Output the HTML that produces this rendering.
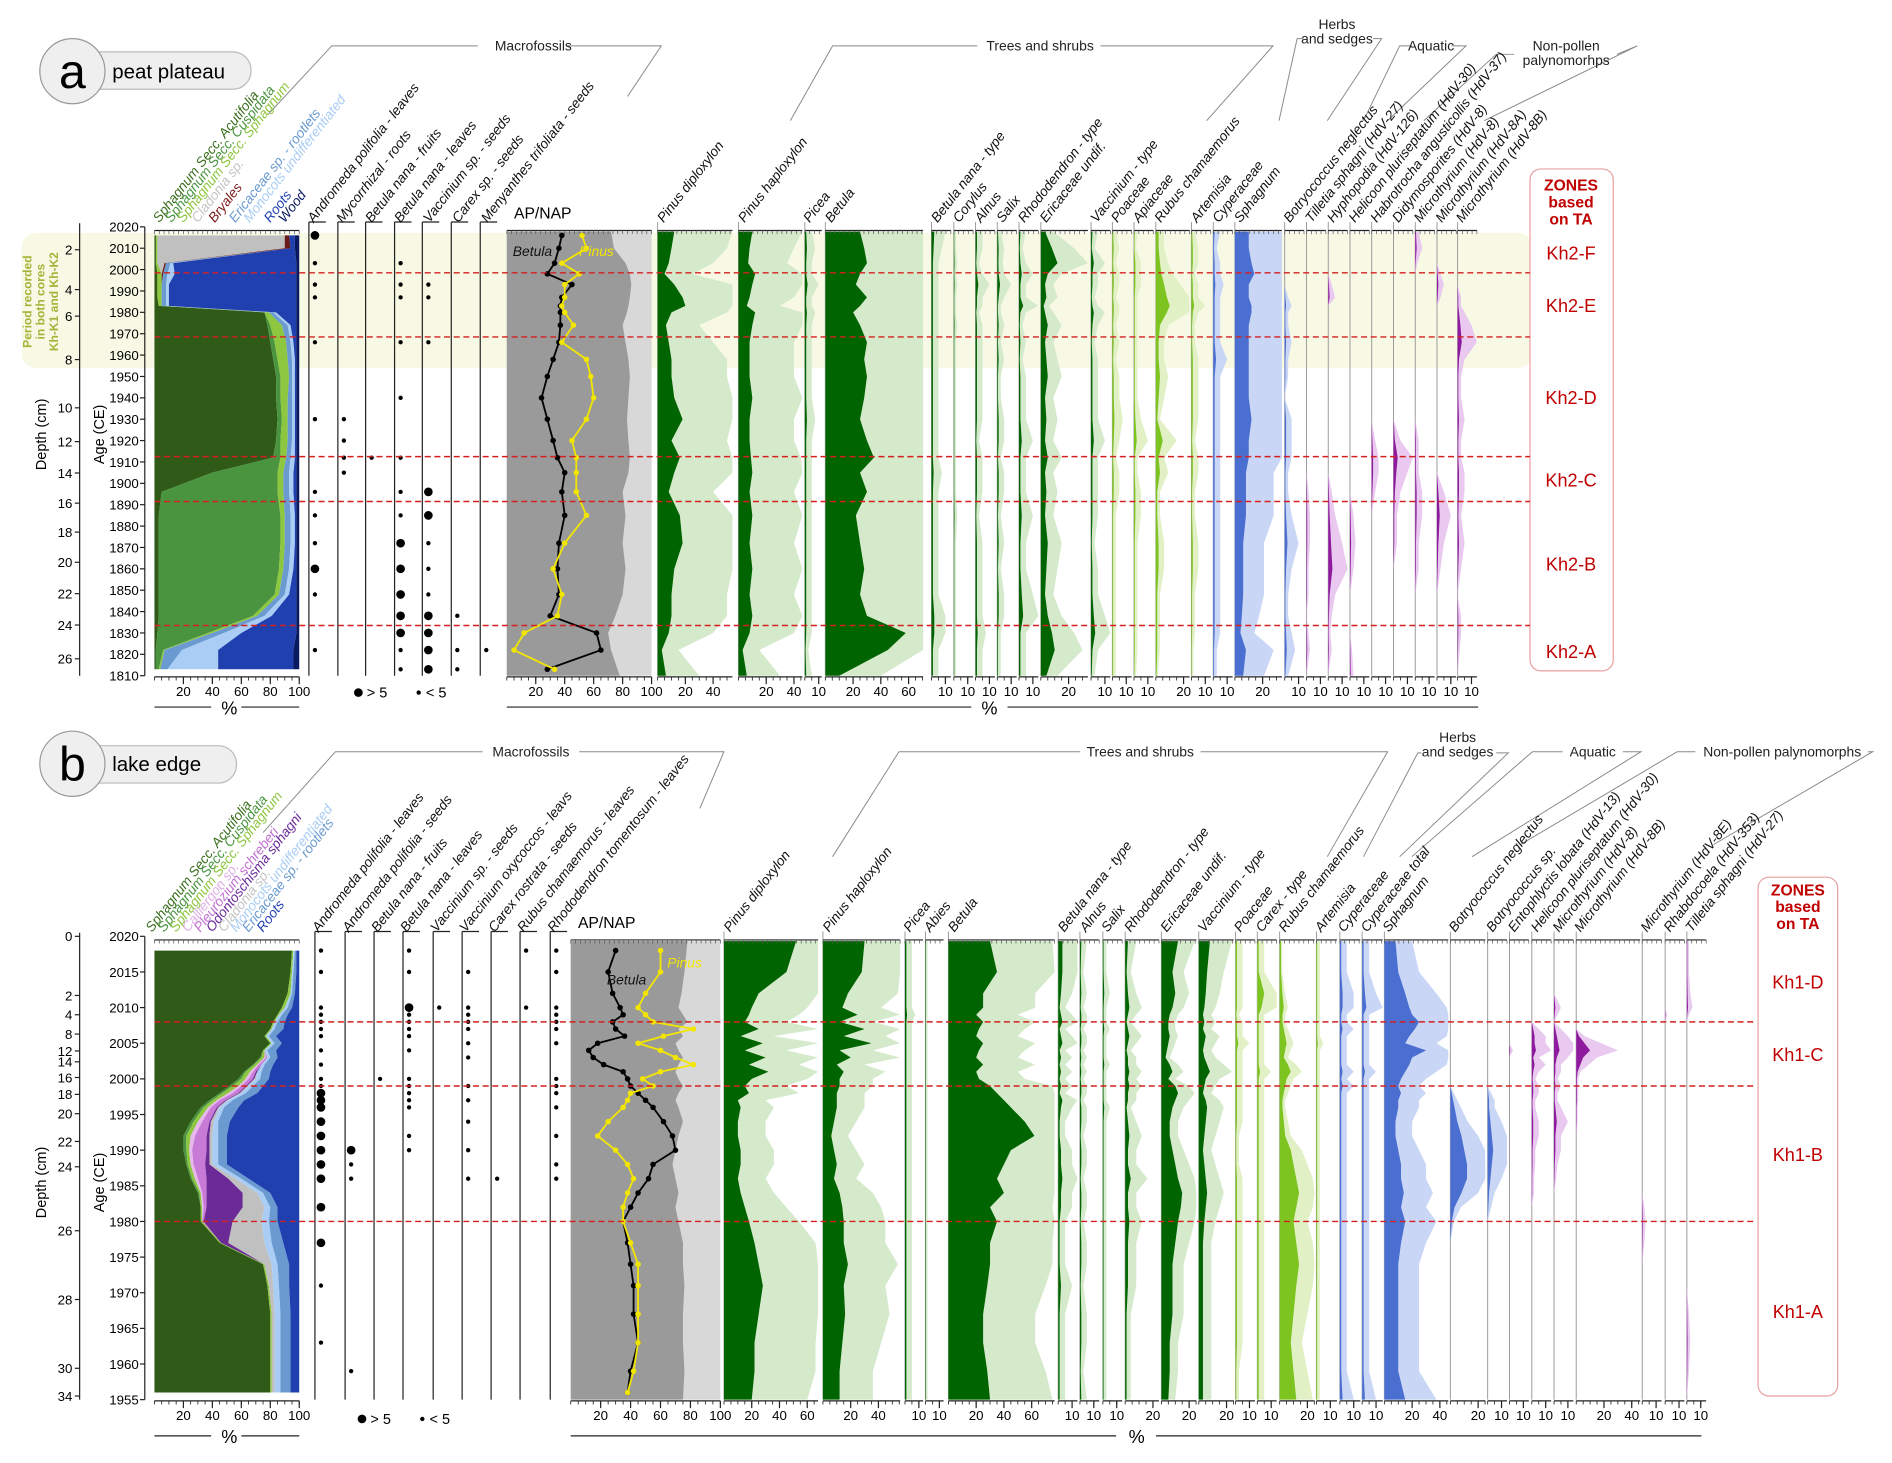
<!DOCTYPE html>
<html><head><meta charset="utf-8"><style>
html,body{margin:0;padding:0;background:#fff}
svg{display:block;font-family:"Liberation Sans",sans-serif}
</style></head><body>
<svg id="fig" width="1892" height="1463" viewBox="0 0 1568 1212.5" preserveAspectRatio="none" xmlns="http://www.w3.org/2000/svg">
<rect x="18" y="193" width="1252" height="112" rx="12" fill="#f8f9e4"/>
<text transform="translate(36,250) rotate(-90)" text-anchor="middle" font-size="10" font-weight="bold" fill="#a4b43a"><tspan x="0" dy="-10">Period recorded</tspan><tspan x="0" dy="11">in both cores</tspan><tspan x="0" dy="11">Kh-K1 and Kh-K2</tspan></text>
<g>
<rect x="62" y="43" width="146" height="31" rx="15" fill="#efefef" stroke="#bbb"/>
<circle cx="60" cy="59" r="27" fill="#efefef" stroke="#999"/>
<text x="60" y="73" text-anchor="middle" font-size="40">a</text>
<text x="93" y="65" font-size="17">peat plateau</text></g>
<g>
<rect x="62" y="618" width="134" height="31" rx="15" fill="#efefef" stroke="#bbb"/>
<circle cx="60" cy="633" r="27" fill="#efefef" stroke="#999"/>
<text x="60" y="647" text-anchor="middle" font-size="40">b</text>
<text x="93" y="639" font-size="17">lake edge</text></g>
<g fill="none" stroke="#888" stroke-width="0.8">
<polyline points="222,95 275,38 396,38"/><polyline points="470,38 548,38 520,80"/>
<polyline points="655,100 690,38 810,38"/><polyline points="912,38 1055,38 1000,100"/>
<polyline points="1060,100 1075,32 1080,32"/><polyline points="1138,32 1145,32 1100,100"/>
<polyline points="1130,100 1160,38 1170,38"/><polyline points="1203,38 1215,38 1150,100"/>
<polyline points="1180,100 1240,45 1255,45"/><polyline points="1340,45 1357,38 1230,100"/>
<polyline points="218,690 278,623 400,623"/><polyline points="480,623 600,623 580,670"/>
<polyline points="690,710 745,623 895,623"/><polyline points="995,623 1150,623 1100,710"/>
<polyline points="1130,710 1175,624 1178,624"/><polyline points="1240,624 1250,624 1160,710"/>
<polyline points="1170,710 1270,623 1295,623"/><polyline points="1345,623 1360,623 1220,710"/>
<polyline points="1260,700 1390,623 1405,623"/><polyline points="1548,623 1552,623 1420,700"/>
</g>
<g font-size="11.5" fill="#222">
<text x="442" y="42" text-anchor="middle">Macrofossils</text>
<text x="862" y="42" text-anchor="middle">Trees and shrubs</text>
<text x="1108" y="24" text-anchor="middle">Herbs</text><text x="1108" y="36" text-anchor="middle">and sedges</text>
<text x="1186" y="42" text-anchor="middle">Aquatic</text>
<text x="1298" y="42" text-anchor="middle">Non-pollen</text><text x="1298" y="54" text-anchor="middle">palynomorhps</text>
<text x="440" y="627" text-anchor="middle">Macrofossils</text>
<text x="945" y="627" text-anchor="middle">Trees and shrubs</text>
<text x="1208" y="615" text-anchor="middle">Herbs</text><text x="1208" y="627" text-anchor="middle">and sedges</text>
<text x="1320" y="627" text-anchor="middle">Aquatic</text>
<text x="1477" y="627" text-anchor="middle">Non-pollen palynomorphs</text>
</g>
<rect x="1268" y="140" width="69" height="416" rx="9" fill="#fff" stroke="#e8a0a0"/>
<text x="1302" y="158" text-anchor="middle" font-size="13" font-weight="bold" fill="#c00000"><tspan x="1302">ZONES</tspan><tspan x="1302" dy="14">based</tspan><tspan x="1302" dy="14">on TA</tspan></text>
<rect x="1457" y="727" width="66" height="430" rx="9" fill="#fff" stroke="#e8a0a0"/>
<text x="1490" y="742" text-anchor="middle" font-size="13" font-weight="bold" fill="#c00000"><tspan x="1490">ZONES</tspan><tspan x="1490" dy="14">based</tspan><tspan x="1490" dy="14">on TA</tspan></text>
<g id="plot"></g>
</svg>
<script>
const aAges=[2016,2010,2003,1998,1993,1987,1983,1980,1974,1966,1958,1950,1940,1930,1920,1912,1905,1896,1885,1872,1860,1848,1838,1830,1822,1813];
const aAcu=[1,1,1,2,2,2,3,76,78,80,82,84,84,85,84,82,40,5,3,3,3,3,3,2,1,1];
const aCus=[0,0,0,0,0,0,0,0,2,3,3,3,3,3,3,5,45,80,84,84,83,80,65,35,5,2];
const aSph=[1,1,1,3,3,3,2,3,8,8,7,6,5,4,5,4,4,4,3,3,3,3,3,3,1,1];
const aCla=[88,88,5,0,0,0,0,0,0,0,0,0,0,0,0,0,0,0,0,0,0,0,0,0,0,0];
const aBry=[3,4,1,1,0,0,0,0,0,0,0,0,0,0,0,0,0,0,0,0,0,0,0,0,0,0];
const aEri=[0,0,3,3,3,3,3,3,4,3,3,2,3,3,3,3,4,4,4,4,4,4,5,8,12,5];
const aMon=[0,0,2,5,2,2,2,2,2,2,2,2,2,2,2,3,3,3,3,3,3,3,5,12,25,35];
const aRoot=[4,3,85,84,88,88,88,14,4,2,1,1,1,1,1,1,2,2,1,1,2,5,17,38,52,52];
const aWood=[3,3,2,2,2,2,2,2,2,2,2,2,2,2,2,2,2,2,2,2,2,2,2,2,4,4];
const aAndL=[2,0,1,0,1,1,0,0,0,1,0,0,0,1,0,0,0,1,1,1,2,1,0,0,1,0];
const aMyc=[0,0,0,0,0,0,0,0,0,0,0,0,0,1,1,1,1,0,0,0,0,0,0,0,0,0];
const aBetF=[0,0,0,0,0,0,0,0,0,0,0,0,0,0,0,1,0,0,0,0,0,0,0,0,0,0];
const aBetL=[0,0,1,0,1,1,0,0,0,1,0,0,1,0,0,1,0,1,1,2,2,2,2,2,1,1];
const aVac=[0,0,0,0,1,1,0,0,0,1,0,0,0,0,0,0,0,2,2,1,1,1,2,2,2,2];
const aCar=[0,0,0,0,0,0,0,0,0,0,0,0,0,0,0,0,0,0,0,0,0,0,1,0,1,1];
const aMen=[0,0,0,0,0,0,0,0,0,0,0,0,0,0,0,0,0,0,0,0,0,0,0,0,1,0];
const aAP=[72,74,82,85,86,85,84,83,80,82,84,85,84,83,84,85,84,80,82,80,82,80,75,70,72,78];
const aBetulaLine=[38,36,33,28,45,38,37,37,37,36,32,28,24,28,32,35,40,38,40,36,35,36,30,62,65,28];
const aPinusLine=[52,55,38,50,40,40,38,40,46,38,55,58,60,55,45,48,48,48,55,40,32,38,35,12,5,33];
const aPinDip=[12,10,8,5,12,18,20,10,6,8,10,10,12,18,10,16,12,8,16,18,12,10,10,8,3,6];
const aPinHap=[10,8,7,12,10,8,6,12,10,8,8,8,10,8,8,9,10,8,10,8,10,8,10,8,3,6];
const aPicea=[1,1.5,1,1,2,1,1,1.5,1,1,1,1,1,1.5,1,1,1,1,1,1,1,1,1,1,0.5,1];
const aBetula=[25,28,30,25,22,30,25,20,25,30,28,30,28,25,30,35,25,30,22,25,28,25,30,58,45,10];
const aBnana=[2,1.5,1,1,1,1,1,1,1,1,1,1,1,1,1,1,1.5,1,1,1,1,1,2,2,1,1];
const aCorylus=[0.3,0.3,0.5,0.3,0.5,0.3,0.3,0.3,0.5,0.3,0.3,0.3,0.3,0.3,0.3,0.3,0.3,0.3,0.5,0.3,0.3,0.3,0.3,0.3,0.3,0.3];
const aAlnus=[1,1,0.5,1,2,1,1,0.5,1,1,1,1,1,1,0.5,1,1,1,0.5,1,1,1,1,1.5,1,1];
const aSalix=[0.5,1,0.8,1,2,1,0.5,0.5,1,0.5,1,0.5,0.5,1,1,0.5,1,1,0.5,1,0.5,1,1,0.5,0.5,0.5];
const aRhodo=[1,0.5,1,2,1,1,3,1,0.5,1,0.5,1,1,1,2,1,1,1,2,1,1,2,3,1,1,1];
const aErica=[3,8,12,5,3,4,2,3,5,3,4,5,3,4,3,5,3,4,3,5,4,3,5,8,10,4];
const aVaccP=[1,0.5,2,1,1,0.5,1,2,1,0.5,1,1,1,1,2,1,1,1,1,0.5,1,1,2,3,1,0.5];
const aPoa=[0.5,1,0.5,1,1,0.5,1,1,0.5,1,0.5,1,1,1.5,1,0.5,1,1,0.5,0.5,0.5,0.5,0.5,0.5,0.5,0.5];
const aApi=[0.5,0.3,1,1,1,0.5,0.5,0.5,0.5,0.5,0.5,0.5,0.5,1,2,0.5,0.5,1,1,0.5,0.5,0.5,0.5,0.5,0.5,0.3];
const aRubus=[2,2,3,4,6,8,10,8,3,2,2,3,2,1,5,2,3,1,1,2,2,1,1,1,1,0.5];
const aArt=[0.5,1,1,0.5,1,1,2,1,0.5,0.5,1,1,1,1,0.5,1,1,0.5,0.5,1,1,0.5,0.5,0.5,0.3,0.3];
const aCyp=[1,0.5,1,1,1.5,1,1,1,1,1,2,1,1,1,1,1,1,1,1,1,1,1,1,1,0.5,0.5];
const aSphP=[10,10,12,14,10,10,12,12,10,10,10,10,10,12,10,10,8,8,8,6,6,6,5,4,8,6];
const aBotry=[0,0,0,0,0,0.5,1,0.5,0.5,1,0.5,0.5,0,1,1,1,0.5,0.5,1,2,1,0.5,0.5,1,1.5,0.5];
const aTill=[0,0,0,0,0,0,0,0,0,0,0,0,0,0,0,0,0,0.3,0.5,0.5,0.3,0.3,0,0.3,0.5,0];
const aHyph=[0,0,0,0,0.5,1,0,0,0,0,0,0,0,0,0,0,0,0.5,1,2,3,1,0.5,0.3,0.5,0];
const aHeli=[0,0,0,0,0,0,0,0,0,0,0,0,0,0,0,0,0,0,0.5,0.8,0.5,0,0,0,0.3,0.5];
const aHabro=[0,0,0,0,0,0,0,0,0,0,0,0,0,0,0.5,1,1,0.5,0,0,0,0,0,0,0,0];
const aDidy=[0,0,0,0,0,0,0,0,0,0,0,0,0,0,1,3,2,1,0.5,0.5,0,0,0,0,0,0];
const aM8=[0.5,1,0.3,0,0,0,0,0,0,0,0,0,0,0,0.5,0.5,0.5,1,1,0.5,0.5,0,0,0,0,0];
const aM8A=[0,0,0,0.5,1,0.5,0,0,0,0,0,0,0,0,0,0,0,1,2,1,0.5,0,0,0,0,0];
const aM8B=[0,0,0,0,0,0.5,0.5,1,2,3,1,0.5,0.5,1,0.5,0.5,1,1,0.5,1,0.5,0,0.5,0.5,0.3,0];
const aZoneBounds=[1998.5,1968.5,1912.5,1891.5,1833.5];
const aZoneNames=["Kh2-F","Kh2-E","Kh2-D","Kh2-C","Kh2-B","Kh2-A"];
const bAges=[2018,2015,2012,2010,2009,2008,2007,2006,2005,2004,2003,2002,2001,2000,1999,1998,1997,1996,1994,1992,1990,1988,1986,1984,1982,1980,1977,1974,1971,1967,1963,1959,1956];
const bAcu=[95,94,92,88,85,82,80,76,80,75,73,68,62,58,52,45,38,32,25,20,20,22,25,30,32,32,45,75,78,80,80,80,80];
const bCus=[0,0,0,0,0,0,0,0,0,0,1,1,1,2,2,2,2,2,2,2,2,1,1,1,0,0,0,0,0,0,0,0,0];
const bSph=[1,1,2,2,1,1,1,1,1,1,2,2,3,3,4,4,3,3,3,3,2,2,2,1,1,1,1,1,1,1,1,1,1];
const bCal=[0,0,0,0,0,0,0,0,0,0,1,1,2,2,2,3,2,2,3,3,2,2,2,1,1,0,0,0,0,0,0,0,0];
const bPle=[0,0,0,0,0,0,0,0,0,0,1,2,2,3,3,4,4,4,5,8,10,8,6,3,2,1,0,0,0,0,0,0,0];
const bOdo=[0,0,0,0,0,0,0,0,0,0,0,0,1,1,1,1,1,1,1,2,2,3,15,25,25,20,5,0,0,0,0,0,0];
const bCla=[0,0,0,0,0,0,0,0,0,0,0,0,0,1,1,1,1,1,2,2,2,2,5,10,15,20,25,5,3,2,2,2,2];
const bMon=[1,1,1,2,2,2,2,2,2,2,2,2,3,3,3,3,3,3,3,4,4,4,4,4,4,5,5,4,4,4,4,4,4];
const bEri=[1,2,2,3,4,5,6,5,5,6,5,6,6,6,7,8,8,10,8,6,6,6,5,5,5,6,8,8,7,7,7,7,7];
const bRoot=[2,2,3,5,8,10,11,16,12,16,15,18,20,21,25,29,38,42,48,50,50,50,35,20,15,15,11,7,7,6,6,6,6];
const bAndL=[1,1,0,1,1,1,1,1,0,1,0,1,0,1,1,2,2,2,2,2,2,2,2,0,2,0,2,0,1,0,1,0,0];
const bAndS=[0,0,0,0,0,0,0,0,0,0,0,0,0,0,0,0,0,0,0,0,2,1,1,0,0,0,0,0,0,0,0,1,0];
const bBetF=[0,0,0,0,0,0,0,0,0,0,0,0,0,1,0,0,0,0,0,0,0,0,0,0,0,0,0,0,0,0,0,0,0];
const bBetL=[1,1,0,2,1,1,1,1,0,1,0,0,0,1,1,1,1,1,0,1,1,0,0,0,0,0,0,0,0,0,0,0,0];
const bVacS=[0,0,0,1,0,0,0,0,0,0,0,0,0,0,0,0,0,0,0,0,0,0,0,0,0,0,0,0,0,0,0,0,0];
const bVacO=[0,1,0,1,1,1,1,0,1,0,1,0,0,0,1,0,1,0,1,0,1,0,1,0,0,0,0,0,0,0,0,0,0];
const bCar=[0,0,0,0,0,0,0,0,0,0,0,0,0,0,0,0,0,0,0,0,0,0,1,0,0,0,0,0,0,0,0,0,0];
const bRub=[1,0,0,1,0,0,0,0,0,0,0,0,0,0,0,0,0,0,0,0,0,0,0,0,0,0,0,0,0,0,0,0,0];
const bRho=[1,1,0,1,1,1,1,0,1,0,0,0,0,1,1,1,0,1,0,1,0,1,1,0,0,0,0,0,0,0,0,0,0];
const bAP=[78,76,74,72,75,78,72,75,70,72,75,72,70,72,75,72,70,72,75,72,70,68,70,72,70,72,75,75,76,75,75,76,75];
const bBetulaLine=[30,25,28,33,35,28,30,36,18,12,15,22,35,38,40,45,50,55,62,68,70,55,52,45,40,35,38,40,42,42,45,40,38];
const bPinusLine=[60,60,50,45,50,55,82,62,45,60,70,82,60,48,55,40,38,35,25,18,30,38,42,38,35,35,40,45,45,45,45,42,38];
const bPinDip=[52,45,25,20,18,15,25,12,28,15,30,18,32,20,15,18,10,12,10,10,12,12,10,12,15,18,22,25,28,25,22,22,20];
const bPinHap=[30,28,18,14,25,12,30,15,35,12,20,10,15,12,12,10,10,10,8,6,8,10,8,12,14,15,15,18,15,16,14,12,12];
const bPicea=[1,1,1,1,1.5,1,1,1,1,1,1,1,1,1,1,1,1,1,1,1,1,1,1,1,1,1,1,1,1,1,1,1,1];
const bAbies=[0.3,0.3,0.3,0.3,0.3,0.3,0.3,0.3,0.3,0.3,0.3,0.3,0.3,0.3,0.3,0.3,0.3,0.3,0.3,0.3,0.3,0.3,0.3,0.3,0.3,0.3,0.3,0.3,0.3,0.3,0.3,0.3,0.3];
const bBetula=[30,35,25,25,20,25,22,20,25,22,20,25,20,22,30,35,40,45,55,62,45,40,35,40,30,35,30,30,28,25,25,28,30];
const bBnana=[3,3,2,1,2,3,1,2,3,1,2,1,2,1,2,1,3,2,1,1,2,2,3,2,2,1,1,1,2,1,1,1,1];
const bAlnus=[1,0.5,1,0.5,1,1,0.5,1,1,0.5,1,0.5,1,0.5,1,1,0.5,1,1,0.5,1,1,0.5,1,1,0.5,1,1,0.5,1,1,0.5,1];
const bSalix=[0.5,0.5,1,0.5,0.5,0.5,1,0.5,0.5,0.5,0.5,1,0.5,0.5,0.5,0.5,0.5,1,0.5,0.5,0.5,0.5,0.5,0.5,0.5,0.5,0.5,0.5,0.5,0.5,0.5,0.5,0.5];
const bRhodo=[2,1,2,3,2,1,2,3,2,1,2,2,3,2,3,2,2,1,2,3,2,2,4,2,2,3,2,2,2,1,1,1,1];
const bErica=[12,8,10,8,6,5,5,6,5,4,3,6,8,5,10,12,10,8,6,6,8,10,12,15,14,12,10,8,8,8,6,6,5];
const bVaccP=[8,6,5,4,3,4,3,5,4,3,4,6,8,5,4,3,5,6,5,4,3,4,5,6,5,4,3,3,3,3,3,3,3];
const bPoa=[1,1,1,1,0.5,1,1,1,2,1,1,1,1,1,1,1,1,1,1,0.5,0.5,0.5,1,1,1,1,1,1,1,1,1,0.5,0.5];
const bCarP=[1,1,5,3,1,1,1,1,1,1,1,1,2,1,1,1,1,1,1,1,1,1,1,1,1,1,1,1,1,1,1,1,1];
const bRubus=[1,1,2,3,2,2,3,4,5,4,3,6,8,5,4,3,2,2,3,4,8,10,12,14,12,10,12,14,12,10,8,10,12];
const bArt=[0.5,0.5,0.5,0.5,0.5,0.5,0.5,0.5,1,0.5,0.5,0.5,0.5,0.5,0.5,0.5,0.5,0.5,0.5,0.5,0.5,0.5,0.5,0.5,0.5,0.5,0.5,0.5,0.5,0.5,0.5,0.5,0.5];
const bCyp=[1,1,2,2,1,1,2,1,1,1,1,1,2,1,2,1,1,1,1,1,1,1,1,1,1,1,1,1,1,1,1,1,2];
const bCypT=[1,1,2,3,1,1,1,1,1,1,1,1,2,1,1,1,1,1,1,1,1,1,1,1,1,1,1,1,1,1,1,1,2];
const bSphP=[8,10,15,18,20,25,22,18,15,30,20,18,15,12,10,12,10,10,8,8,10,12,12,14,12,15,12,10,10,10,10,10,15];
const bBotN=[0,0,0,0,0,0,0,0,0,0,0,0,0,0,0,1,2,3,5,8,10,12,12,8,3,1,0,0,0,0,0,0,0];
const bBotS=[0,0,0,0,0,0,0,0,0,0,0,0,0,0,0,0.5,1,1,2,3,4,3,2,1,0.5,0,0,0,0,0,0,0,0];
const bEnto=[0,0,0,0,0,0,0,0,0,0.5,0,0,0,0,0,0,0,0,0,0,0,0,0,0,0,0,0,0,0,0,0,0,0];
const bHeli=[0,0,0,0,0,0,1,2,2,3,1,2,1,0.5,1,1,0.5,0.5,1,1,0.5,0.5,0.3,0.3,0,0,0,0,0,0,0,0,0];
const bM8=[0,0,0,1,0.5,0,1,2,3,4,2,1,1,0.5,1,0.5,0.5,1,2,1,1,0.5,0.3,0,0,0,0,0,0,0,0,0,0];
const bM8B=[0,0,0,0,0,0,0,2,6,10,5,3,1,0.5,0.5,0.5,0.5,0.3,0.3,0,0,0,0,0,0,0,0,0,0,0,0,0,0];
const bM8E=[0,0,0,0,0,0,0,0,0,0,0,0,0,0,0,0,0,0,0,0,0,0,0,0,0.3,0.5,0.3,0,0,0,0,0,0];
const bRhab=[0,0,0,0,0.3,0,0,0,0,0,0,0,0,0,0,0,0,0,0,0,0,0,0,0,0,0,0,0,0,0,0,0,0];
const bTill=[0.3,0.3,0.5,0.8,0.3,0,0,0,0,0,0,0,0,0,0,0,0,0,0,0,0,0,0,0,0,0,0,0,0,0.3,0.5,0.3,0];
const bZoneBounds=[2008,1999,1980];
const bZoneNames=["Kh1-D","Kh1-C","Kh1-B","Kh1-A"];

const NS="http://www.w3.org/2000/svg";
const plot=document.getElementById('plot');
function mk(tag,attrs,parent){const e=document.createElementNS(NS,tag);for(const k in attrs)e.setAttribute(k,attrs[k]);(parent||plot).appendChild(e);return e;}
const COL={tree:['#d5eacb','#006400'],herb:['#e2f1c5','#7dc420'],blue:['#c9d6f6','#4a6fd0'],purple:['#e9c9ef','#8e1a9e']};

function makePanel(P){
  const y=P.y;
  let ax=mk('line',{x1:120,y1:y(P.ageMax),x2:120,y2:y(P.ageMin),stroke:'#222'});
  
  
  for(let a=P.ageMin;a<=P.ageMax;a+=P.ageStep){
    mk('line',{x1:116,x2:120,y1:y(a),y2:y(a),stroke:'#222'});
    let t=mk('text',{x:115,y:y(a)+4,'text-anchor':'end','font-size':11},null);t.textContent=a;
    
    
  }
  let at=mk('text',{transform:`translate(86,${P.titleY}) rotate(-90)`,'text-anchor':'middle','font-size':12});at.textContent='Age (CE)';
  
  
  let dl=mk('line',{x1:66,x2:66,y1:P.depthTop,y2:P.depthBot,stroke:'#222'});
  
  
  P.depth.forEach(d=>{mk('line',{x1:62,x2:66,y1:d[1],y2:d[1],stroke:'#222'});let t=mk('text',{x:60,y:d[1]+4,'text-anchor':'end','font-size':11});t.textContent=d[0];
    
    });
  let dt=mk('text',{transform:`translate(38,${P.titleY}) rotate(-90)`,'text-anchor':'middle','font-size':12});dt.textContent='Depth (cm)';
  
  

  const ys=P.ages.map(y);
  const top=y(P.ageMax), bot=y(P.ageMin);
  let cum=P.ages.map(()=>0);
  P.stack.forEach(L=>{
    const right=cum.map((c,i)=>c+L.d[i]);
    let pts=[];
    right.forEach((v,i)=>pts.push([128+v*1.2,ys[i]]));
    for(let i=cum.length-1;i>=0;i--)pts.push([128+cum[i]*1.2,ys[i]]);
    let p=mk('polygon',{points:pts.map(q=>q.join(',')).join(' '),fill:L.c});
    
    
    cum=right;
  });
  axisBottom(P,128,120,1.2,[20,40,60,80,100],'macro');
  topAxis(P,128,120);
  P.dots.forEach(D=>{
    let l=mk('line',{x1:D.x,x2:D.x,y1:top-4,y2:bot,stroke:'#222'});
    
    
    mk('line',{x1:D.x,x2:D.x+14,y1:top-4,y2:top-4,stroke:'#222'});
    D.d.forEach((v,i)=>{if(!v)return;
      let c=mk('circle',{cx:D.x+5,cy:ys[i],r:v==2?3.6:1.8,fill:'#000'});
      
      });
  });
  const ax0=P.apX,aw=P.apW,s=aw/100;
  let bg=mk('rect',{x:ax0,y:top+4,width:aw,height:bot-top-4,fill:'#d8d8d8'});
  
  
  let ap=[[ax0,top+4]];P.AP.forEach((v,i)=>ap.push([ax0+v*s,i==0?top+4:(i==P.AP.length-1?bot:ys[i])]));ap.push([ax0,bot]);
  let app=mk('polygon',{points:ap.map(q=>q.join(',')).join(' '),fill:'#9a9a9a'});
  
  
  [[P.betLine,'#000','Betula'],[P.pinLine,'#f2e600','Pinus']].forEach(([arr,c,nm])=>{
    let pl=mk('polyline',{points:arr.map((v,i)=>(ax0+v*s)+','+ys[i]).join(' '),fill:'none',stroke:c,'stroke-width':1.5});
    
    
    arr.forEach((v,i)=>{let c2=mk('circle',{cx:ax0+v*s,cy:ys[i],r:2.3,fill:c});
      
      });
  });
  let tb=mk('text',{x:P.betLbl[0],y:P.betLbl[1],'font-size':11.5,'font-style':'italic',fill:'#111'});tb.textContent='Betula';
  
  
  let tp=mk('text',{x:P.pinLbl[0],y:P.pinLbl[1],'font-size':11.5,'font-style':'italic',fill:'#f2e600'});tp.textContent='Pinus';
  
  
  let apt=mk('text',{x:ax0+6,y:top-7,'font-size':13});apt.textContent='AP/NAP';
  
  
  axisBottom(P,ax0,aw,s,[20,40,60,80,100],'apnap');
  topAxis(P,ax0,aw);
  P.cols.forEach(C=>{
    const [lt,dk]=COL[C.c];const sc=P.sc;
    let b=mk('line',{x1:C.x,x2:C.x,y1:top-4,y2:bot,stroke:'#999','stroke-width':0.8});
    
    
    const mkArea=(f,fill)=>{let pts=[[C.x,top+4]];C.d.forEach((v,i)=>pts.push([C.x+Math.min(v*f*sc,C.w),i==0?top+4:(i==C.d.length-1?bot:ys[i])]));pts.push([C.x,bot]);
      return mk('polygon',{points:pts.map(q=>q.join(',')).join(' '),fill:fill});};
    let pl=mkArea(C.e||5,lt);
    
    
    let pd=mkArea(1,dk);
    
    
    axisBottom(P,C.x,C.w,sc,C.t||[10],C.n);
    topAxis(P,C.x,C.w);
  });
  P.headers.forEach(H=>{
    let t=mk('text',{x:H[1],y:P.hdrY,transform:`rotate(-52 ${H[1]} ${P.hdrY})`,'font-size':11.3,'font-style':'italic',fill:H[2]||'#111'});t.textContent=H[0];
    
    
  });
  const zb=P.zoneBounds.map(y);
  zb.forEach(zy=>{let l=mk('line',{x1:128,x2:P.zoneEnd,y1:zy,y2:zy,stroke:'#d42020','stroke-width':1.2,'stroke-dasharray':'5,3'});
    
    });
  const edges=[top+4].concat(zb,[bot]);
  P.zoneNames.forEach((n,i)=>{let t=mk('text',{x:P.zoneX,y:(edges[i]+edges[i+1])/2+6,'text-anchor':'middle','font-size':15,fill:'#c00000'});t.textContent=n;
    
    });
}
function axisBottom(P,x0,w,s,ticks,nm){
  const y0=P.y(P.ageMin)+1;
  mk('line',{x1:x0,x2:x0+w,y1:y0,y2:y0,stroke:'#222'});
  for(let v=0;v*s<=w+0.1;v+=(s*2>3?2:5)) mk('line',{x1:x0+v*s,x2:x0+v*s,y1:y0,y2:y0+3,stroke:'#222','stroke-width':0.7});
  ticks.forEach(v=>{if(v*s>w+6)return;mk('line',{x1:x0+v*s,x2:x0+v*s,y1:y0,y2:y0+6,stroke:'#222'});
    let t=mk('text',{x:x0+v*s,y:y0+16,'text-anchor':'middle','font-size':11});t.textContent=v;
    
    });
}
function topAxis(P,x0,w){
  const y0=P.y(P.ageMax)+3;
  mk('line',{x1:x0,x2:x0+w,y1:y0,y2:y0,stroke:'#222'});
  for(let x=x0;x<=x0+w;x+=4) mk('line',{x1:x,x2:x,y1:y0,y2:y0+3,stroke:'#555','stroke-width':0.6});
}

const ya=a=>188+(2020-a)*372/210;
const yb=a=>776+(2020-a)*384/65;
makePanel({id:'panel-a',y:ya,ages:aAges,ageMin:1810,ageMax:2020,ageStep:10,titleY:360,
  depthTop:185,depthBot:560,depth:[[2,207],[4,240],[6,262],[8,298],[10,338],[12,366],[14,392],[16,417],[18,441],[20,466],[22,492],[24,518],[26,546]],
  stack:[{n:'acutifolia',d:aAcu,c:'#2f5a17'},{n:'cuspidata',d:aCus,c:'#4a9440'},{n:'sphagnum',d:aSph,c:'#8dc63f'},{n:'cladonia',d:aCla,c:'#c0c0c0'},{n:'bryales',d:aBry,c:'#6b1a1a'},{n:'ericaceae-rootlets',d:aEri,c:'#6a9ad0'},{n:'monocots',d:aMon,c:'#a9cdf5'},{n:'roots',d:aRoot,c:'#2040b0'},{n:'wood',d:aWood,c:'#0a1a60'}],
  dots:[{x:256,d:aAndL},{x:280,d:aMyc},{x:303,d:aBetF},{x:327,d:aBetL},{x:350,d:aVac},{x:374,d:aCar},{x:398,d:aMen}],
  apX:420,apW:120,AP:aAP,betLine:aBetulaLine,pinLine:aPinusLine,betLbl:[425,212],pinLbl:[480,212],sc:1.15,
  cols:[{n:'a-pinus-diploxylon',x:545,w:62,c:'tree',e:5,t:[20,40],d:aPinDip},{n:'a-pinus-haploxylon',x:612,w:53,c:'tree',e:5,t:[20,40],d:aPinHap},
    {n:'a-picea',x:667,w:14,c:'tree',d:aPicea},{n:'a-betula',x:684,w:81,c:'tree',e:4,t:[20,40,60],d:aBetula},
    {n:'a-betula-nana',x:772,w:16,c:'tree',d:aBnana},{n:'a-corylus',x:790.5,w:16,c:'tree',d:aCorylus},{n:'a-alnus',x:808.5,w:16,c:'tree',d:aAlnus},
    {n:'a-salix',x:826.5,w:16,c:'tree',d:aSalix},{n:'a-rhododendron',x:844.5,w:16,c:'tree',d:aRhodo},{n:'a-ericaceae',x:862.6,w:39,c:'tree',e:3,t:[20],d:aErica},
    {n:'a-vaccinium',x:904.2,w:16,c:'tree',d:aVaccP},{n:'a-poaceae',x:921.9,w:16,c:'herb',d:aPoa},{n:'a-apiaceae',x:939.8,w:16,c:'herb',d:aApi},
    {n:'a-rubus',x:957.9,w:28,c:'herb',e:3,t:[20],d:aRubus},{n:'a-artemisia',x:987.4,w:16,c:'herb',d:aArt},{n:'a-cyperaceae',x:1005.5,w:16,c:'blue',d:aCyp},
    {n:'a-sphagnum',x:1023.4,w:39,c:'blue',e:3.5,t:[20],d:aSphP},{n:'a-botryococcus',x:1064.7,w:16,c:'blue',d:aBotry},
    {n:'a-tilletia',x:1082.8,w:16,c:'purple',d:aTill},{n:'a-hyphopodia',x:1100.8,w:16,c:'purple',d:aHyph},{n:'a-helicoon',x:1118.8,w:16,c:'purple',d:aHeli},
    {n:'a-habrotrocha',x:1136.8,w:16,c:'purple',d:aHabro},{n:'a-didymosporites',x:1154.9,w:16,c:'purple',d:aDidy},{n:'a-microthyrium-8',x:1172.9,w:16,c:'purple',d:aM8},
    {n:'a-microthyrium-8a',x:1190.9,w:16,c:'purple',d:aM8A},{n:'a-microthyrium-8b',x:1208,w:16,c:'purple',d:aM8B}],
  hdrY:185,
  headers:[['Sphagnum Secc. Acutifolia',132,'#3a6e1e'],['Sphagnum Secc. Cuspidata',142,'#4a9440'],['Sphagnum Secc. Sphagnum',152,'#8dc63f'],['Cladonia sp.',164,'#c4c4c4'],['Bryales',178,'#7a1a1a'],['Ericaceae sp. - rootlets',195,'#6a9ad0'],['Monocots undifferentiated',207,'#a9cdf5'],['Roots',224,'#2040b0'],['Wood',236,'#0a1a60'],
    ['Andromeda polifolia - leaves',260],['Mycorrhizal - roots',284],['Betula nana - fruits',308],['Betula nana - leaves',332],['Vaccinium sp. - seeds',356],['Carex sp. - seeds',380],['Menyanthes trifoliata - seeds',404],
    ['Pinus diploxylon',550],['Pinus haploxylon',617],['Picea',671],['Betula',689],['Betula nana - type',777],['Corylus',795],['Alnus',813],['Salix',831],['Rhododendron - type',849],['Ericaceae undif.',867],
    ['Vaccinium - type',909],['Poaceae',926],['Apiaceae',944],['Rubus chamaemorus',962],['Artemisia',992],['Cyperaceae',1010],['Sphagnum',1028],['Botryococcus neglectus',1069],['Tilletia sphagni (HdV-27)',1087],['Hyphopodia (HdV-126)',1105],['Helicoon pluriseptatum (HdV-30)',1123],['Habrotrocha angusticollis (HdV-37)',1141],['Didymosporites (HdV-8)',1159],['Microthyrium (HdV-8)',1177],['Microthyrium (HdV-8A)',1195],['Microthyrium (HdV-8B)',1212]],
  zoneBounds:aZoneBounds,zoneNames:aZoneNames,zoneEnd:1268,zoneX:1302});
makePanel({id:'panel-b',y:yb,ages:bAges,ageMin:1955,ageMax:2020,ageStep:5,titleY:980,
  depthTop:773,depthBot:1160,depth:[[0,776],[2,825],[4,841],[8,857],[12,871],[14,880],[16,893],[18,907],[20,923],[22,946],[24,967],[26,1020],[28,1077],[30,1134],[34,1157]],
  stack:[{n:'acutifolia',d:bAcu,c:'#2f5a17'},{n:'cuspidata',d:bCus,c:'#4a9440'},{n:'sphagnum',d:bSph,c:'#8dc63f'},{n:'calliergon',d:bCal,c:'#e6b8ec'},{n:'pleurozium',d:bPle,c:'#c77ad6'},{n:'odontoschisma',d:bOdo,c:'#6b2a96'},{n:'cladonia',d:bCla,c:'#c0c0c0'},{n:'monocots',d:bMon,c:'#a9cdf5'},{n:'ericaceae-rootlets',d:bEri,c:'#6a9ad0'},{n:'roots',d:bRoot,c:'#2040b0'}],
  dots:[{x:261,d:bAndL},{x:286,d:bAndS},{x:310,d:bBetF},{x:334,d:bBetL},{x:359,d:bVacS},{x:383,d:bVacO},{x:407,d:bCar},{x:431,d:bRub},{x:456,d:bRho}],
  apX:473,apW:124,AP:bAP,betLine:bBetulaLine,pinLine:bPinusLine,betLbl:[503,816],pinLbl:[553,802],sc:1.15,
  cols:[{n:'b-pinus-diploxylon',x:600,w:78,c:'tree',e:3,t:[20,40,60],d:bPinDip},{n:'b-pinus-haploxylon',x:682,w:64,c:'tree',e:3,t:[20,40],d:bPinHap},
    {n:'b-picea',x:750,w:15,c:'tree',d:bPicea},{n:'b-abies',x:767,w:15,c:'tree',d:bAbies},{n:'b-betula',x:786,w:88,c:'tree',e:2.5,t:[20,40,60],d:bBetula},
    {n:'b-betula-nana',x:877,w:16,c:'tree',d:bBnana},{n:'b-alnus',x:895,w:16,c:'tree',d:bAlnus},{n:'b-salix',x:914,w:16,c:'tree',d:bSalix},
    {n:'b-rhododendron',x:932.5,w:28,c:'tree',e:4,t:[20],d:bRhodo},{n:'b-ericaceae',x:962.5,w:29,c:'tree',e:2,t:[20],d:bErica},{n:'b-vaccinium',x:993.5,w:29,c:'tree',e:3,t:[20],d:bVaccP},
    {n:'b-poaceae',x:1024,w:16,c:'herb',d:bPoa},{n:'b-carex',x:1042,w:16,c:'herb',d:bCarP},{n:'b-rubus',x:1060.5,w:29,c:'herb',e:2,t:[20],d:bRubus},{n:'b-artemisia',x:1091,w:17,c:'herb',d:bArt},
    {n:'b-cyperaceae',x:1110.4,w:17,c:'blue',d:bCyp},{n:'b-cyperaceae-total',x:1128.9,w:17,c:'blue',d:bCypT},{n:'b-sphagnum',x:1147.3,w:53,c:'blue',e:2.5,t:[20,40],d:bSphP},
    {n:'b-botryococcus-neglectus',x:1202,w:29,c:'blue',e:2.5,t:[20],d:bBotN},{n:'b-botryococcus-sp',x:1232.9,w:16,c:'blue',d:bBotS},
    {n:'b-entophlyctis',x:1251,w:16,c:'purple',d:bEnto},{n:'b-helicoon',x:1269.5,w:16,c:'purple',d:bHeli},{n:'b-microthyrium-8',x:1287.9,w:16,c:'purple',d:bM8},
    {n:'b-microthyrium-8b',x:1306.3,w:53,c:'purple',e:3,t:[20,40],d:bM8B},{n:'b-microthyrium-8e',x:1361,w:16,c:'purple',d:bM8E},{n:'b-rhabdocoela',x:1380,w:16,c:'purple',d:bRhab},{n:'b-tilletia',x:1398,w:16,c:'purple',d:bTill}],
  hdrY:773,
  headers:[['Sphagnum Secc. Acutifolia',126,'#3a6e1e'],['Sphagnum Secc. Cuspidata',136,'#4a9440'],['Sphagnum Secc. Sphagnum',146,'#8dc63f'],['Calliergon sp.',156,'#e0b0e8'],['Pleurozium schreberi',166,'#c070d0'],['Odontoschisma sphagni',176,'#6a2a9a'],['Cladonia sp.',186,'#c4c4c4'],['Monocots undifferentiated',196,'#a9cdf5'],['Ericaceae sp. - rootlets',206,'#6a9ad0'],['Roots',218,'#2040b0'],
    ['Andromeda polifolia - leaves',264],['Andromeda polifolia - seeds',289],['Betula nana - fruits',313],['Betula nana - leaves',337],['Vaccinium sp. - seeds',362],['Vaccinium oxycoccos - leavs',386],['Carex rostrata - seeds',410],['Rubus chamaemorus - leaves',434],['Rhododendron tomentosum - leaves',459],
    ['Pinus diploxylon',605],['Pinus haploxylon',687],['Picea',754],['Abies',771],['Betula',791],['Betula nana - type',882],['Alnus',900],['Salix',918],['Rhododendron - type',937],['Ericaceae undif.',967],['Vaccinium - type',998],['Poaceae',1028],['Carex - type',1046],['Rubus chamaemorus',1065],['Artemisia',1095],['Cyperaceae',1114],['Cyperaceae total',1133],['Sphagnum',1151],['Botryococcus neglectus',1206],['Botryococcus sp.',1237],['Entophlyctis lobata (HdV-13)',1255],['Helicoon pluriseptatum (HdV-30)',1274],['Microthyrium (HdV-8)',1292],['Microthyrium (HdV-8B)',1310],['Microthyrium (HdV-8E)',1365],['Rhabdocoela (HdV-353)',1384],['Tilletia sphagni (HdV-27)',1402]],
  zoneBounds:bZoneBounds,zoneNames:bZoneNames,zoneEnd:1455,zoneX:1490});

[[190,592,128,175,200,248],[820,592,420,805,835,1225],[190,1196,128,175,200,248],[942,1196,473,925,958,1410]].forEach(r=>{
  let l1=mk('line',{x1:r[2],x2:r[3],y1:r[1]-6,y2:r[1]-6,stroke:'#222'});
  
  
  let l2=mk('line',{x1:r[4],x2:r[5],y1:r[1]-6,y2:r[1]-6,stroke:'#222'});
  
  
  let t=mk('text',{x:r[0],y:r[1],'text-anchor':'middle','font-size':15});t.textContent='%';
  
  
});
[[297,578],[300,1180]].forEach(p=>{
  let g=mk('g',{});
  
  
  mk('circle',{cx:p[0],cy:p[1]-4,r:3.6,fill:'#000'},g);
  let t1=mk('text',{x:p[0]+7,y:p[1],'font-size':12},g);t1.textContent='> 5';
  mk('circle',{cx:p[0]+50,cy:p[1]-4,r:1.8,fill:'#000'},g);
  let t2=mk('text',{x:p[0]+56,y:p[1],'font-size':12},g);t2.textContent='< 5';
});
</script>
</body></html>
